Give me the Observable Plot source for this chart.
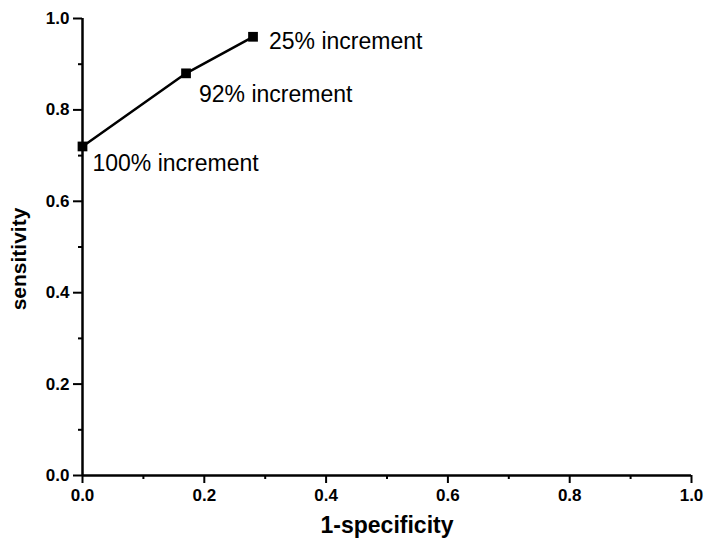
<!DOCTYPE html>
<html>
<head>
<meta charset="utf-8">
<script src="https://cdn.jsdelivr.net/npm/d3@7"></script>
<script src="https://cdn.jsdelivr.net/npm/@observablehq/plot@0.6"></script>
<style>
  html, body { margin: 0; padding: 0; background: #fff; }
  svg { display: block; }
</style>
</head>
<body>
<div id="chart"></div>
<script>
const oneMinusSpecificity = [0, 0.17, 0.28];
const sensitivity = [0.72, 0.88, 0.96];
const pointLabels = ["100% increment", "92% increment", "25% increment"];
const majorTicks = [0, 0.2, 0.4, 0.6, 0.8, 1.0];
const minorTicks = [0.1, 0.3, 0.5, 0.7, 0.9];
const xTitle = "1-specificity";
const yTitle = "sensitivity";

const data = oneMinusSpecificity.map((x, i) => ({x, y: sensitivity[i], label: pointLabels[i]}));
const labelOffsets = [{dx: 10, dy: 17}, {dx: 13, dy: 21}, {dx: 16, dy: 5}];

const font = "Liberation Sans, Arial, Helvetica, sans-serif";

const plot = Plot.plot({
  width: 707,
  height: 547,
  marginLeft: 82,
  marginRight: 16,
  marginTop: 18,
  marginBottom: 72,
  style: {fontFamily: font, background: "#fff", color: "#000"},
  x: {domain: [0, 1]},
  y: {domain: [0, 1]},
  marks: [
    Plot.axisX(minorTicks, {tickSize: 4, strokeWidth: 2, text: null, label: null}),
    Plot.axisX(majorTicks, {tickSize: 8, strokeWidth: 2, tickPadding: 5, tickFormat: d3.format(".1f"), fontSize: 17, fontWeight: "bold", label: null}),
    Plot.axisY(minorTicks, {tickSize: 4, strokeWidth: 2, text: null, label: null}),
    Plot.axisY(majorTicks, {tickSize: 9, strokeWidth: 2, tickPadding: 4, tickFormat: d3.format(".1f"), fontSize: 17, fontWeight: "bold", label: null}),
    Plot.ruleX([0], {strokeWidth: 2.5}),
    Plot.ruleY([0], {strokeWidth: 2.5}),
    Plot.line(data, {x: "x", y: "y", stroke: "#000", strokeWidth: 2.5}),
    Plot.dot(data, {x: "x", y: "y", symbol: "square", r: 5.5, fill: "#000", stroke: "none"}),
    ...data.map((d, i) => Plot.text([d], {x: "x", y: "y", text: "label", textAnchor: "start", dx: labelOffsets[i].dx, dy: labelOffsets[i].dy, fontSize: 23, fill: "#000"})),
    Plot.text([xTitle], {frameAnchor: "bottom", textAnchor: "middle", dy: 57, fontSize: 23, fontWeight: "bold", fill: "#000"}),
    Plot.text([yTitle], {frameAnchor: "left", textAnchor: "middle", dx: -63, dy: 12, rotate: -90, fontSize: 21, fontWeight: "bold", fill: "#000"})
  ]
});
document.getElementById("chart").appendChild(plot);
</script>
</body>
</html>
